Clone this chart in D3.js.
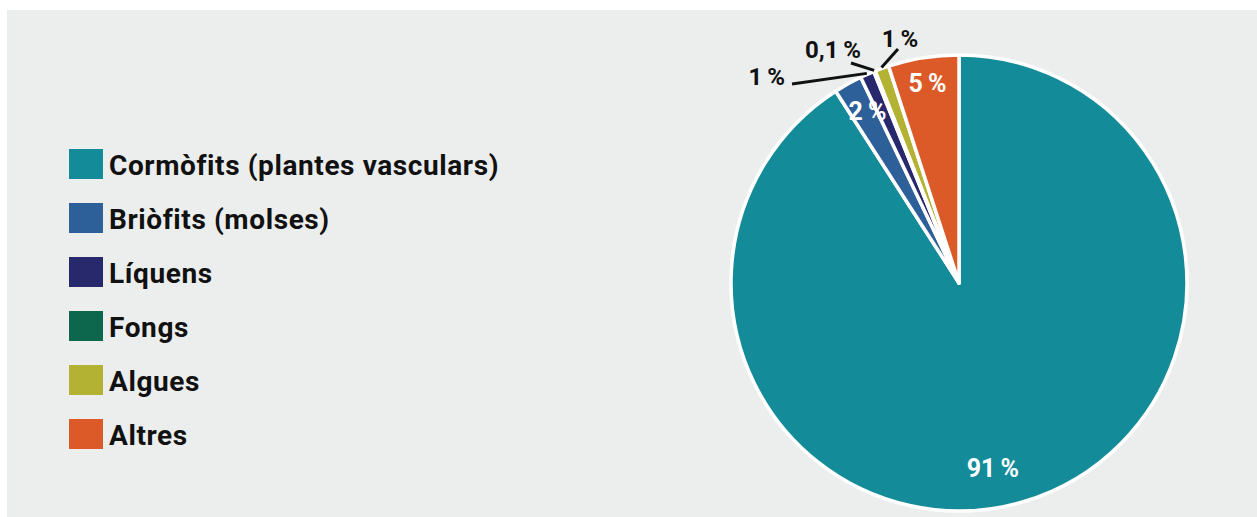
<!DOCTYPE html>
<html>
<head>
<meta charset="utf-8">
<script src="https://cdn.jsdelivr.net/npm/d3@7/dist/d3.min.js"></script>
<style>
  html, body { margin: 0; padding: 0; background: #ffffff; }
  svg { display: block; }
  text { font-family: Roboto, "Noto Sans", sans-serif; font-weight: 700; }
</style>
</head>
<body>
<svg id="chart" width="1257" height="517"></svg>
<script>
// Groups of organisms and their share of the catalogued species (%)
const categories = [
  "Cormòfits (plantes vasculars)",
  "Briòfits (molses)",
  "Líquens",
  "Fongs",
  "Algues",
  "Altres"
];
const shares = [91, 2, 1, 0.1, 1, 5];
const shareLabels = ["91\u2009%", "2\u2009%", "1\u2009%", "0,1\u2009%", "1\u2009%", "5\u2009%"];
const colors = ["#138b99", "#2d5f98", "#28296c", "#0c674d", "#b4b232", "#db5a28"];

const W = 1257, H = 517;
const svg = d3.select("#chart");

// panel background
svg.append("rect")
  .attr("x", 7).attr("y", 10)
  .attr("width", W - 7).attr("height", H - 10)
  .attr("fill", "#eceeed");

// ---- legend ----
const legendY = d3.scalePoint()
  .domain(categories)
  .range([149, 419]);

const legend = svg.append("g");
const rows = legend.selectAll("g.row")
  .data(categories)
  .join("g")
  .attr("class", "row")
  .attr("transform", d => `translate(69,${legendY(d)})`);

rows.append("rect")
  .attr("width", 34).attr("height", 30)
  .attr("fill", (d, i) => colors[i]);

rows.append("text")
  .attr("x", 40).attr("y", 26)
  .attr("font-size", 28)
  .attr("letter-spacing", 0.6)
  .attr("fill", "#111111")
  .text(d => d);

// ---- pie ----
const cx = 959, cy = 283, R = 228;
const pieData = categories.map((c, i) => ({ name: c, value: shares[i], label: shareLabels[i], color: colors[i] }));

const pie = d3.pie()
  .value(d => d.value)
  .sort(null);

const arcs = pie(pieData);
const arc = d3.arc().innerRadius(0).outerRadius(R);

const pg = svg.append("g").attr("transform", `translate(${cx},${cy})`);

pg.selectAll("path.slice")
  .data(arcs)
  .join("path")
  .attr("class", "slice")
  .attr("d", arc)
  .attr("fill", d => d.data.color)
  .attr("stroke", "#ffffff")
  .attr("stroke-width", 3.5)
  .attr("stroke-linejoin", "round");

// label placement: inside labels sit on a ring; small slices get leader lines
const midAngle = d => (d.startAngle + d.endAngle) / 2;
const polar = (r, a) => [r * Math.sin(a), -r * Math.cos(a)];

const insideLabel = {
  "Cormòfits (plantes vasculars)": { r: 188, turn: 0.105 },
  "Briòfits (molses)": { r: 195, turn: 0.02 },
  "Altres": { r: 202, turn: 0 }
};
const outsideLabel = {
  "Líquens":  { line: [-167, -199], text: [-174, -206], anchor: "end" },
  "Fongs":    { line: [-108, -220], text: [-126, -233], anchor: "middle" },
  "Algues":   { line: [-61, -234], text: [-59, -244], anchor: "middle" }
};

arcs.forEach(d => {
  const name = d.data.name;
  if (insideLabel[name]) {
    const p = insideLabel[name];
    const [x, y] = polar(p.r, midAngle(d) + p.turn);
    pg.append("text")
      .attr("x", x).attr("y", y)
      .attr("dy", "0.35em")
      .attr("text-anchor", "middle")
      .attr("font-size", 25)
      .attr("fill", "#ffffff")
      .text(d.data.label);
  } else if (outsideLabel[name]) {
    const p = outsideLabel[name];
    const [x0, y0] = polar(R + 1, midAngle(d));
    pg.append("line")
      .attr("x1", x0).attr("y1", y0)
      .attr("x2", p.line[0]).attr("y2", p.line[1])
      .attr("stroke", "#111111")
      .attr("stroke-width", 3);
    pg.append("text")
      .attr("x", p.text[0]).attr("y", p.text[1])
      .attr("dy", "0.35em")
      .attr("text-anchor", p.anchor)
      .attr("font-size", 24)
      .attr("fill", "#111111")
      .text(d.data.label);
  }
});
</script>
</body>
</html>
